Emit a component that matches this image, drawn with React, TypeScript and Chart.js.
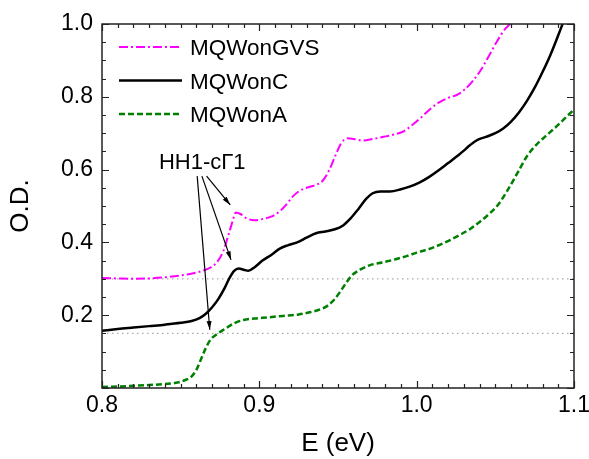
import { useEffect, useRef } from 'react';
import { Chart, registerables } from 'chart.js';

Chart.register(...registerables);

const FONT = "'Liberation Sans', Arial, Helvetica, sans-serif";

const xTickLabels = ['0.8', '0.9', '1.0', '1.1'];
const yTickLabels = ['0.2', '0.4', '0.6', '0.8', '1.0'];

const gvsE = [0.800, 0.810, 0.820, 0.830, 0.840, 0.850, 0.858, 0.864, 0.869, 0.873, 0.877, 0.880, 0.883, 0.885, 0.888, 0.892, 0.897, 0.902, 0.907, 0.912, 0.917, 0.921, 0.925, 0.930, 0.936, 0.940, 0.944, 0.948, 0.952, 0.956, 0.960, 0.966, 0.972, 0.979, 0.986, 0.992, 0.997, 1.002, 1.008, 1.014, 1.020, 1.026, 1.031, 1.036, 1.041, 1.046, 1.051, 1.056, 1.060];
const gvsOD = [0.302, 0.301, 0.300, 0.301, 0.304, 0.309, 0.315, 0.322, 0.331, 0.345, 0.375, 0.415, 0.458, 0.482, 0.478, 0.466, 0.461, 0.464, 0.470, 0.482, 0.503, 0.525, 0.540, 0.550, 0.558, 0.568, 0.595, 0.635, 0.672, 0.686, 0.684, 0.680, 0.684, 0.690, 0.697, 0.706, 0.722, 0.740, 0.764, 0.784, 0.797, 0.806, 0.822, 0.845, 0.875, 0.913, 0.952, 0.985, 1.003];

const cE = [0.800, 0.810, 0.820, 0.830, 0.840, 0.850, 0.857, 0.862, 0.866, 0.870, 0.874, 0.878, 0.881, 0.884, 0.887, 0.890, 0.893, 0.897, 0.902, 0.908, 0.913, 0.918, 0.924, 0.930, 0.936, 0.942, 0.948, 0.953, 0.958, 0.963, 0.968, 0.972, 0.977, 0.983, 0.990, 0.996, 1.002, 1.008, 1.014, 1.020, 1.026, 1.030, 1.033, 1.038, 1.044, 1.050, 1.055, 1.060, 1.065, 1.070, 1.075, 1.080, 1.085, 1.089, 1.093];
const cOD = [0.157, 0.162, 0.166, 0.170, 0.174, 0.179, 0.184, 0.192, 0.204, 0.222, 0.245, 0.275, 0.302, 0.322, 0.328, 0.325, 0.322, 0.332, 0.350, 0.367, 0.383, 0.392, 0.400, 0.413, 0.425, 0.430, 0.436, 0.446, 0.466, 0.492, 0.520, 0.535, 0.540, 0.540, 0.546, 0.554, 0.565, 0.580, 0.598, 0.618, 0.638, 0.652, 0.664, 0.680, 0.690, 0.700, 0.713, 0.732, 0.757, 0.788, 0.825, 0.868, 0.915, 0.958, 1.003];

const aE = [0.800, 0.810, 0.820, 0.830, 0.840, 0.848, 0.853, 0.857, 0.860, 0.863, 0.866, 0.869, 0.873, 0.878, 0.884, 0.890, 0.897, 0.905, 0.915, 0.925, 0.932, 0.938, 0.943, 0.947, 0.951, 0.955, 0.959, 0.964, 0.970, 0.978, 0.986, 0.994, 1.000, 1.008, 1.015, 1.022, 1.028, 1.034, 1.040, 1.046, 1.052, 1.058, 1.064, 1.070, 1.076, 1.082, 1.088, 1.094, 1.100];
const aOD = [0.003, 0.004, 0.006, 0.008, 0.011, 0.015, 0.022, 0.032, 0.050, 0.080, 0.110, 0.133, 0.148, 0.162, 0.178, 0.187, 0.191, 0.194, 0.198, 0.202, 0.208, 0.215, 0.225, 0.240, 0.262, 0.288, 0.310, 0.325, 0.337, 0.345, 0.353, 0.363, 0.372, 0.382, 0.394, 0.408, 0.422, 0.437, 0.456, 0.478, 0.505, 0.545, 0.590, 0.636, 0.668, 0.692, 0.715, 0.740, 0.765];

const refLevels = [0.3, 0.15];
const refRange = [0.8, 1.1];

const annotationText = 'HH1-c\u03931';
const annotationTextPos = [0.8637, 0.618];
const arrowStarts = [[0.8605, 0.582], [0.8635, 0.582], [0.8665, 0.582]];
const arrowEnds = [[0.8685, 0.16], [0.882, 0.352], [0.8815, 0.503]];

const pts = (xs: number[], ys: number[]) => xs.map((x, i) => ({ x, y: ys[i] }));

const decorPlugin = {
  id: 'decor',
  afterDatasetsDraw(chart: any) {
    const { ctx, chartArea: a, scales } = chart;
    const xs = scales.x;
    const ys = scales.y;
    ctx.save();
    // frame
    ctx.strokeStyle = '#222';
    ctx.lineWidth = 1.5;
    ctx.setLineDash([]);
    ctx.strokeRect(a.left, a.top, a.right - a.left, a.bottom - a.top);
    // x ticks
    ctx.lineWidth = 1.2;
    for (let i = 0; i <= 30; i++) {
      const v = 0.8 + i * 0.01;
      const px = Math.round(xs.getPixelForValue(v)) + 0.5;
      const len = i % 10 === 0 ? 7 : 4;
      ctx.beginPath();
      ctx.moveTo(px, a.bottom);
      ctx.lineTo(px, a.bottom - len);
      ctx.moveTo(px, a.top);
      ctx.lineTo(px, a.top + len);
      ctx.stroke();
    }
    for (let i = 0; i <= 20; i++) {
      const v = i * 0.05;
      const py = Math.round(ys.getPixelForValue(v)) + 0.5;
      const len = i % 4 === 0 ? 7 : 4;
      ctx.beginPath();
      ctx.moveTo(a.left, py);
      ctx.lineTo(a.left + len, py);
      ctx.moveTo(a.right, py);
      ctx.lineTo(a.right - len, py);
      ctx.stroke();
    }
    // legend
    const labelled = chart.data.datasets.filter((d: any) => d.label);
    labelled.forEach((d: any, i: number) => {
      const y = a.top + 23 + i * 33.5;
      const x0 = a.left + 17;
      ctx.beginPath();
      ctx.strokeStyle = d.borderColor;
      ctx.lineWidth = d.borderWidth;
      ctx.setLineDash(d.borderDash || []);
      ctx.moveTo(x0, y);
      ctx.lineTo(x0 + 63, y);
      ctx.stroke();
      ctx.setLineDash([]);
      ctx.fillStyle = '#000';
      ctx.font = `22.5px ${FONT}`;
      ctx.textAlign = 'left';
      ctx.textBaseline = 'middle';
      ctx.fillText(d.label, x0 + 71, y + 2);
    });
    // annotation
    ctx.fillStyle = '#000';
    ctx.font = `22px ${FONT}`;
    ctx.textAlign = 'center';
    ctx.textBaseline = 'middle';
    ctx.fillText(annotationText, xs.getPixelForValue(annotationTextPos[0]), ys.getPixelForValue(annotationTextPos[1]));
    ctx.strokeStyle = '#000';
    ctx.lineWidth = 1.2;
    arrowStarts.forEach((s, i) => {
      const e = arrowEnds[i];
      const x1 = xs.getPixelForValue(s[0]);
      const y1 = ys.getPixelForValue(s[1]);
      const x2 = xs.getPixelForValue(e[0]);
      const y2 = ys.getPixelForValue(e[1]);
      ctx.beginPath();
      ctx.moveTo(x1, y1);
      ctx.lineTo(x2, y2);
      ctx.stroke();
      const ang = Math.atan2(y2 - y1, x2 - x1);
      const hl = 9;
      const hw = 0.28;
      ctx.beginPath();
      ctx.moveTo(x2, y2);
      ctx.lineTo(x2 - hl * Math.cos(ang - hw), y2 - hl * Math.sin(ang - hw));
      ctx.lineTo(x2 - hl * Math.cos(ang + hw), y2 - hl * Math.sin(ang + hw));
      ctx.closePath();
      ctx.fill();
    });
    // axis titles
    ctx.fillStyle = '#000';
    ctx.font = `26px ${FONT}`;
    ctx.textAlign = 'center';
    ctx.textBaseline = 'middle';
    ctx.fillText('E (eV)', (a.left + a.right) / 2, a.bottom + 56);
    ctx.save();
    ctx.translate(21, (a.top + a.bottom) / 2);
    ctx.rotate(-Math.PI / 2);
    ctx.fillText('O.D.', 0, 0);
    ctx.restore();
    ctx.restore();
  },
};

export default function App() {
  const ref = useRef<HTMLCanvasElement>(null);
  useEffect(() => {
    if (!ref.current) return;
    const common = { pointRadius: 0, fill: false, cubicInterpolationMode: 'monotone' as const };
    const chart = new Chart(ref.current, {
      type: 'line',
      data: {
        datasets: [
          { ...common, label: 'MQWonGVS', data: pts(gvsE, gvsOD), borderColor: '#FF00FF', borderWidth: 2, borderDash: [9, 3, 2, 3] },
          { ...common, label: 'MQWonC', data: pts(cE, cOD), borderColor: '#000000', borderWidth: 2.5 },
          { ...common, label: 'MQWonA', data: pts(aE, aOD), borderColor: '#008000', borderWidth: 2.5, borderDash: [6, 3] },
          ...refLevels.map((lv) => ({
            ...common,
            label: '',
            data: refRange.map((x) => ({ x, y: lv })),
            borderColor: '#aaaaaa',
            borderWidth: 1.2,
            borderDash: [1.5, 3.5],
          })),
        ],
      },
      options: {
        animation: false,
        responsive: false,
        devicePixelRatio: 1,
        layout: { padding: { top: 24, right: 15, left: 0, bottom: 0 } },
        plugins: { legend: { display: false }, tooltip: { enabled: false } },
        scales: {
          x: {
            type: 'linear',
            min: 0.8,
            max: 1.1,
            afterBuildTicks: (s: any) => { s.ticks = xTickLabels.map((t) => ({ value: parseFloat(t) })); },
            ticks: {
              callback: (v: any) => Number(v).toFixed(1),
              font: { size: 23, family: FONT },
              color: '#000',
              padding: 4,
              maxRotation: 0,
              autoSkip: false,
            },
            grid: { display: false, drawTicks: false },
            border: { display: false },
            afterFit: (s: any) => { s.height = 71; s.paddingLeft = 0; s.paddingRight = 0; },
          },
          y: {
            type: 'linear',
            min: 0,
            max: 1,
            afterBuildTicks: (s: any) => { s.ticks = yTickLabels.map((t) => ({ value: parseFloat(t) })); },
            ticks: {
              callback: (v: any) => Number(v).toFixed(1),
              font: { size: 23, family: FONT },
              color: '#000',
              padding: 9,
              autoSkip: false,
            },
            grid: { display: false, drawTicks: false },
            border: { display: false },
            afterFit: (s: any) => { s.width = 102; s.paddingTop = 0; s.paddingBottom = 0; },
          },
        },
      },
      plugins: [decorPlugin],
    });
    return () => chart.destroy();
  }, []);
  return (
    <div style={{ position: 'absolute', left: 0, top: 0, width: 589, height: 459, background: '#fff' }}>
      <canvas ref={ref} width={589} height={459} style={{ display: 'block' }} />
    </div>
  );
}
